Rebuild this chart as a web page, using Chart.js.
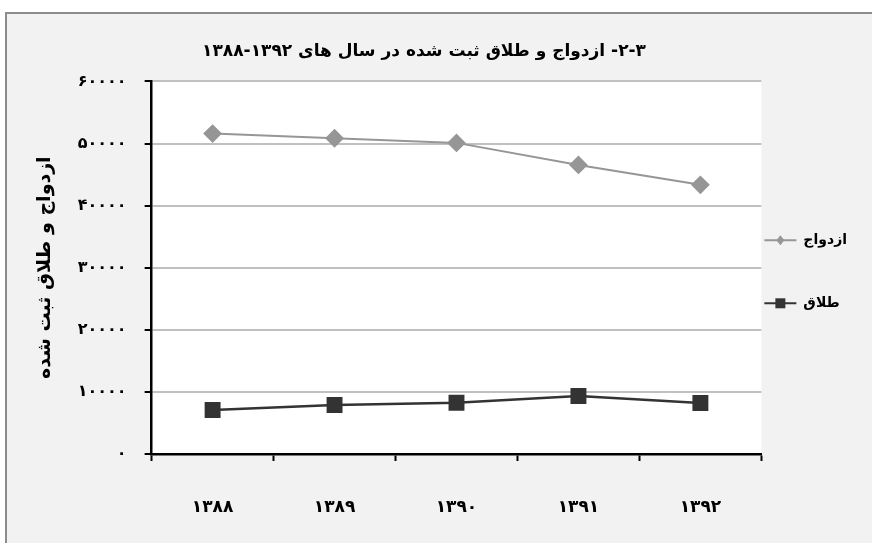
<!DOCTYPE html>
<html>
<head>
<meta charset="utf-8">
<script src="https://cdn.jsdelivr.net/npm/chart.js@4.4.1/dist/chart.umd.min.js"></script>
<style>
  html, body { margin: 0; padding: 0; background: #fff; overflow: hidden; }
  #frame { position: absolute; left: 5px; top: 12px; width: 865px; height: 529px;
           background: #f2f2f2; border-left: 2px solid #8c8c8c; border-top: 2px solid #8c8c8c; }
  #chart { position: absolute; left: 0; top: 0; }
</style>
</head>
<body>
<div id="frame"></div>
<canvas id="chart" width="872" height="543" dir="rtl"></canvas>
<script>
// داده ها
const years = ['۱۳۸۸', '۱۳۸۹', '۱۳۹۰', '۱۳۹۱', '۱۳۹۲'];
const marriage = [51600, 50850, 50100, 46550, 43350];
const divorce = [7100, 7900, 8250, 9350, 8200];
const yTicks = [0, 10000, 20000, 30000, 40000, 50000, 60000];
const seriesNames = ['ازدواج', 'طلاق'];

const chartTitle = '۲-۳- ازدواج و طلاق ثبت شده در سال های ۱۳۹۲-۱۳۸۸';
const yTitle = 'ازدواج و طلاق ثبت شده';

const faDigits = '۰۱۲۳۴۵۶۷۸۹';
function toFa(n) {
  return String(n).replace(/[0-9]/g, d => faDigits[d]);
}

const plotBg = {
  id: 'plotBg',
  afterLayout(chart) {
    // عنوان کمی چپ تر از وسط
    if (chart.titleBlock) chart.titleBlock.left -= 34;
  },
  beforeDraw(chart) {
    const {ctx, chartArea: a} = chart;
    ctx.save();
    ctx.fillStyle = '#ffffff';
    ctx.fillRect(a.left, a.top, a.right - a.left, a.bottom - a.top);
    ctx.restore();
  }
};

// نماد راهنما: خط با نشانگر روی جعبه های راهنما
const legendIcons = {
  id: 'legendIcons',
  afterDraw(chart) {
    const lg = chart.legend;
    if (!lg || !lg.legendHitBoxes) return;
    const ctx = chart.ctx;
    lg.legendHitBoxes.forEach((hb, i) => {
      const ds = chart.data.datasets[i];
      const x0 = hb.left - 2, w = 32;
      const cy = hb.top + hb.height / 2;
      const cx = x0 + w / 2;
      ctx.save();
      ctx.strokeStyle = ds.borderColor;
      ctx.fillStyle = ds.backgroundColor;
      ctx.lineWidth = 2;
      ctx.beginPath(); ctx.moveTo(x0, cy); ctx.lineTo(x0 + w, cy); ctx.stroke();
      ctx.beginPath();
      if (ds.pointStyle === 'rectRot') {
        ctx.moveTo(cx, cy - 5); ctx.lineTo(cx + 4, cy); ctx.lineTo(cx, cy + 5); ctx.lineTo(cx - 4, cy);
      } else {
        ctx.rect(cx - 5, cy - 5, 10, 10);
      }
      ctx.closePath(); ctx.fill();
      ctx.restore();
    });
  }
};

const font = 'DejaVu Sans';
const ctx = document.getElementById('chart').getContext('2d');
new Chart(ctx, {
  type: 'line',
  data: {
    labels: years,
    datasets: [{
      label: seriesNames[0],
      data: marriage,
      borderColor: '#969696',
      backgroundColor: '#969696',
      borderWidth: 2,
      pointStyle: 'rectRot',
      pointRadius: 8,
      pointHoverRadius: 8,
      tension: 0
    }, {
      label: seriesNames[1],
      data: divorce,
      borderColor: '#333333',
      backgroundColor: '#333333',
      borderWidth: 2.5,
      pointStyle: 'rect',
      pointRadius: 9.5,
      pointHoverRadius: 9.5,
      tension: 0
    }]
  },
  options: {
    responsive: false,
    animation: false,
    layout: { padding: { left: 25, right: 15, top: 41, bottom: 25 } },
    plugins: {
      title: {
        display: true,
        text: chartTitle,
        color: '#000',
        font: { family: font, size: 17, weight: 'bold' },
        padding: { top: 0, bottom: 20 }
      },
      legend: {
        position: 'right',
        fullSize: false,
        title: { display: true, text: '', font: { size: 1 }, padding: { top: 0, bottom: 7 } },
        labels: {
          color: '#000',
          font: { family: font, size: 14, weight: 'bold' },
          boxWidth: 30,
          boxHeight: 58,
          padding: 5,
          generateLabels(chart) {
            return chart.data.datasets.map((ds, i) => ({
              text: ds.label,
              fillStyle: 'rgba(0,0,0,0)',
              strokeStyle: 'rgba(0,0,0,0)',
              lineWidth: 0,
              datasetIndex: i,
              fontColor: '#000'
            }));
          }
        }
      },
      tooltip: { enabled: false }
    },
    scales: {
      x: {
        offset: true,
        afterFit(scale) { scale.height = 64; },
        grid: { offset: true, drawOnChartArea: false, tickLength: 7, tickColor: '#000', tickWidth: 2 },
        border: { color: '#000', width: 2.5 },
        ticks: { color: '#000', padding: 36, font: { family: font, size: 17, weight: 'bold' } }
      },
      y: {
        min: 0,
        max: 60000,
        afterBuildTicks(axis) { axis.ticks = yTicks.map(v => ({value: v})); },
        grid: { color: '#c0c0c0', lineWidth: 2, tickLength: 7, tickColor: '#000', tickWidth: 2 },
        border: { color: '#000', width: 2.5 },
        ticks: {
          color: '#000', padding: 18,
          font: { family: font, size: 16, weight: 'bold' },
          callback: v => toFa(v)
        },
        title: {
          display: true,
          text: yTitle,
          color: '#000',
          font: { family: font, size: 19, weight: 'bold' },
          padding: { top: 9, bottom: 3 }
        }
      }
    }
  },
  plugins: [plotBg, legendIcons]
});
</script>
</body>
</html>
